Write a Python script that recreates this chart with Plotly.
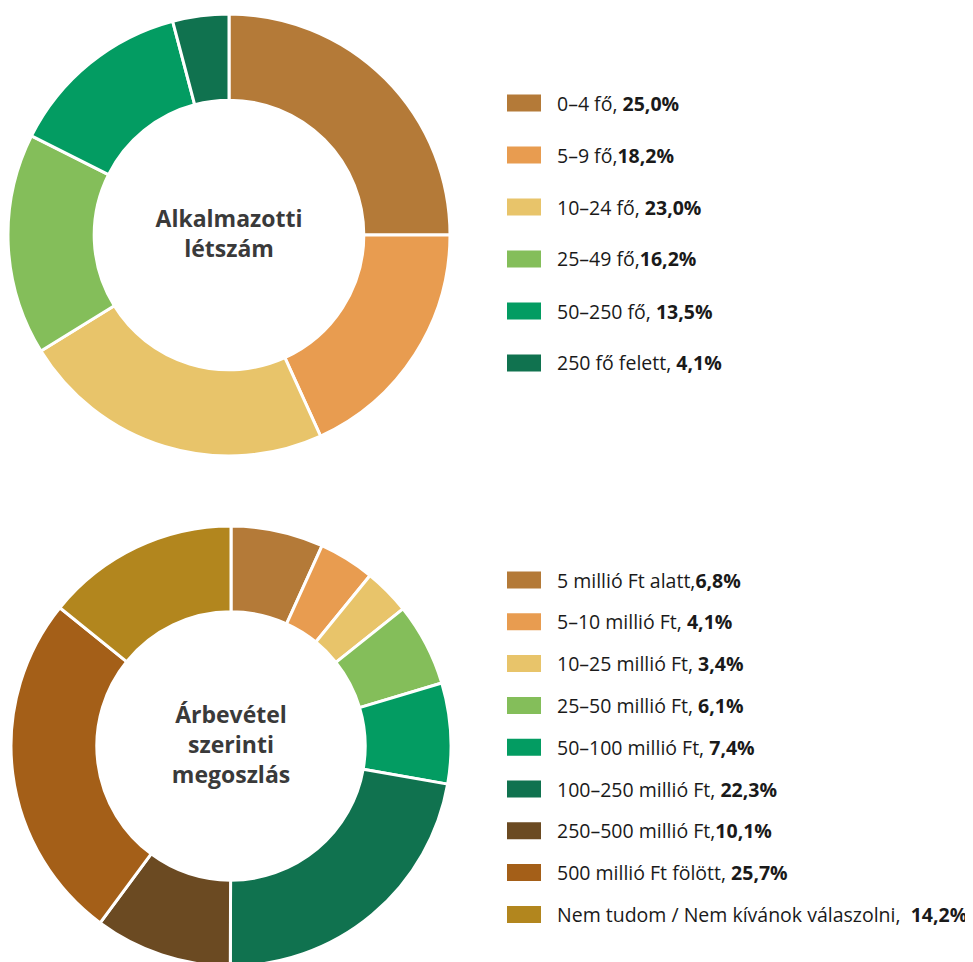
import plotly.graph_objects as go

W, H = 973, 962
OFF = 8  # page body margin of the exported html

# Alkalmazotti létszám
staff_labels = ['0–4 fő', '5–9 fő', '10–24 fő', '25–49 fő', '50–250 fő', '250 fő felett']
staff_values = [25.0, 18.2, 23.0, 16.2, 13.5, 4.1]
staff_text = ['0–4 fő, ', '5–9 fő,', '10–24 fő, ', '25–49 fő,', '50–250 fő, ', '250 fő felett, ']
staff_colors = ['#B47A38', '#E89C50', '#E8C46A', '#84BE5A', '#039C62', '#10724F']

# Árbevétel szerinti megoszlás
rev_labels = ['5 millió Ft alatt', '5–10 millió Ft', '10–25 millió Ft', '25–50 millió Ft',
              '50–100 millió Ft', '100–250 millió Ft', '250–500 millió Ft',
              '500 millió Ft fölött', 'Nem tudom / Nem kívánok válaszolni']
rev_values = [6.8, 4.1, 3.4, 6.1, 7.4, 22.3, 10.1, 25.7, 14.2]
rev_text = ['5 millió Ft alatt,', '5–10 millió Ft, ', '10–25 millió Ft, ', '25–50 millió Ft, ',
            '50–100 millió Ft, ', '100–250 millió Ft, ', '250–500 millió Ft,',
            '500 millió Ft fölött, ', 'Nem tudom / Nem kívánok válaszolni,  ']
rev_colors = ['#B47A38', '#E89C50', '#E8C46A', '#84BE5A', '#039C62', '#10724F',
              '#6B4A22', '#A45F18', '#B2861E']

FONT = 'Open Sans'
TEXT_COLOR = '#1a1a1a'
CENTER_COLOR = '#3a3a3a'


def px(x, y):
    """page pixel position (from top-left) -> paper coords"""
    return (x - OFF) / W, 1 - (y - OFF) / H


def fmt(v):
    return f"{v:.1f}".replace('.', ',') + '%'


fig = go.Figure()

x0, y1 = px(8, 14)
x1, y0 = px(450, 456)
fig.add_trace(go.Pie(
    labels=staff_labels,
    values=staff_values,
    sort=False,
    direction='clockwise',
    rotation=0,
    hole=0.61,
    marker=dict(colors=staff_colors, line=dict(color='white', width=3)),
    textinfo='none',
    domain=dict(x=[x0, x1], y=[y0, y1]),
    title=dict(text='<b>Alkalmazotti<br>létszám</b>', position='middle center',
               font=dict(family=FONT, size=23, color=CENTER_COLOR)),
    showlegend=False,
))

x0, y1 = px(11, 526)
x1, y0 = px(451, 966)
fig.add_trace(go.Pie(
    labels=rev_labels,
    values=rev_values,
    sort=False,
    direction='clockwise',
    rotation=0,
    hole=0.61,
    marker=dict(colors=rev_colors, line=dict(color='white', width=3)),
    textinfo='none',
    domain=dict(x=[x0, x1], y=[max(y0, 0), y1]),
    title=dict(text='<b>Árbevétel<br>szerinti<br>megoszlás</b>', position='middle center',
               font=dict(family=FONT, size=23, color=CENTER_COLOR)),
    showlegend=False,
))

shapes = []
annotations = []


def add_legend(texts, values, colors, y_first, step):
    for i, (t, v, c) in enumerate(zip(texts, values, colors)):
        yc = y_first + i * step
        sx0, sy1 = px(507, yc - 8.5)
        sx1, sy0 = px(541, yc + 8.5)
        shapes.append(dict(type='rect', xref='paper', yref='paper',
                           x0=sx0, x1=sx1, y0=sy0, y1=sy1,
                           fillcolor=c, line=dict(width=0)))
        tx, ty = px(555, yc)
        annotations.append(dict(xref='paper', yref='paper', x=tx, y=ty,
                                xanchor='left', yanchor='middle', showarrow=False,
                                text=f"{t}<b>{fmt(v)}</b>",
                                font=dict(family=FONT, size=19.5, color=TEXT_COLOR)))


add_legend(staff_text, staff_values, staff_colors, 103, 52)
add_legend(rev_text, rev_values, rev_colors, 580, 41.8)

fig.update_layout(
    width=W,
    height=H,
    margin=dict(l=0, r=0, t=0, b=0),
    paper_bgcolor='white',
    plot_bgcolor='white',
    shapes=shapes,
    annotations=annotations,
    showlegend=False,
)

fig.write_html("out.html")
